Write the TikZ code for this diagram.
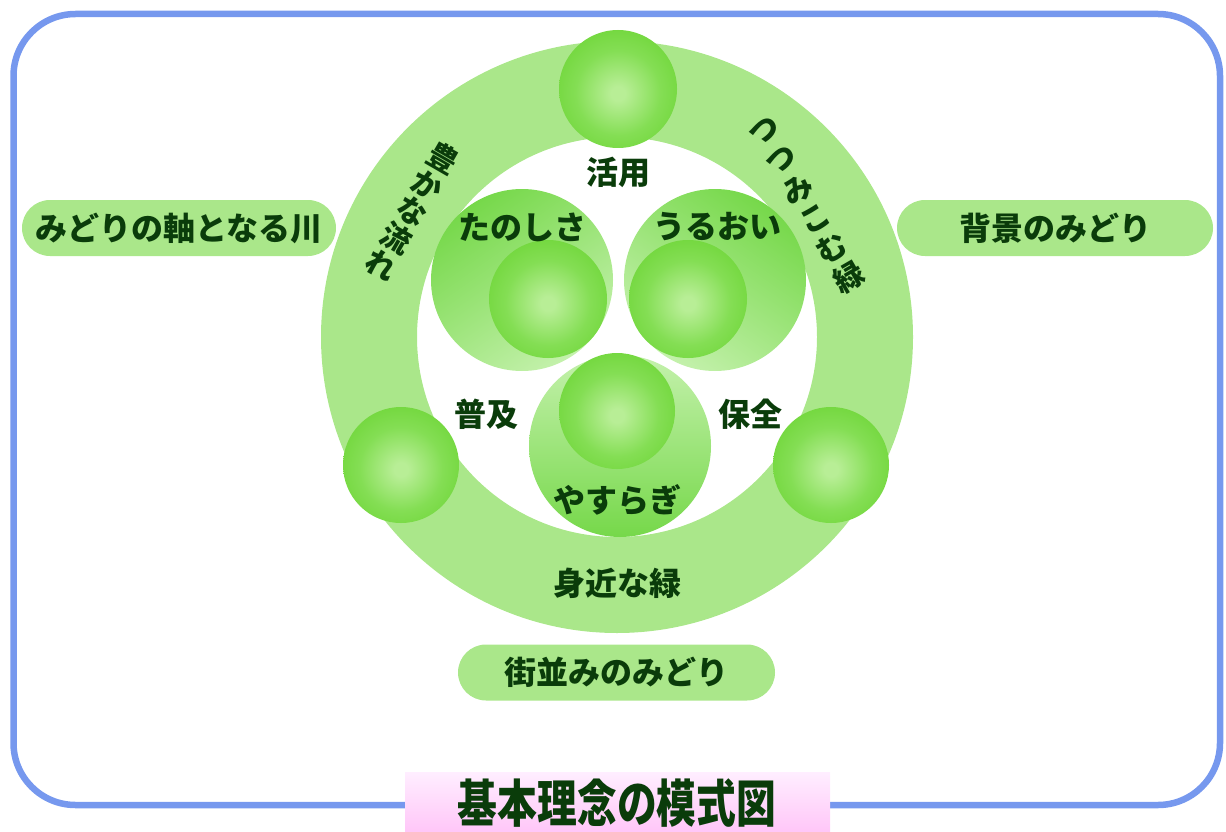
\documentclass[tikz,border=0pt]{standalone}
\usepackage{fontspec}
\newfontfamily\jp{Noto Sans CJK JP}
\definecolor{ringgreen}{RGB}{170,231,138}
\definecolor{ballout}{RGB}{106,212,50}
\definecolor{ballmid}{RGB}{132,222,84}
\definecolor{ballin}{RGB}{184,238,150}
\definecolor{bigdark}{RGB}{118,216,74}
\definecolor{biglight}{RGB}{196,241,172}
\definecolor{txt}{RGB}{10,60,10}
\definecolor{framecol}{RGB}{118,152,238}
\definecolor{pinktop}{RGB}{255,238,255}
\definecolor{pinkbot}{RGB}{255,198,248}
\pgfdeclareradialshading{greenball}{\pgfpoint{0bp}{-2bp}}{color(0bp)=(ballin); color(3bp)=(ballin); color(18bp)=(ballmid); color(33bp)=(ballout); color(100bp)=(ballout)}
\tikzset{
  lbl/.style={text=txt, inner sep=0pt, font=\jp\bfseries\fontsize{32}{32}\selectfont},
  arclbl/.style={text=txt, inner sep=0pt, align=center},
  pill/.style={fill=ringgreen, rounded corners=28pt, inner sep=0pt, minimum height=56pt, text=txt, font=\jp\bfseries\fontsize{32}{32}\selectfont},
  gball/.style={shading=greenball},
}
\begin{document}
\begin{tikzpicture}[x=1pt,y=-1pt]
\useasboundingbox (0,0) rectangle (1226,832);
% frame
\draw[framecol, line width=6.5pt, rounded corners=62pt] (13.5,14) rectangle (1220,805);
% ring
\fill[ringgreen, even odd rule] (617,337) circle (296pt) (617,337) circle (200pt);
% balls on ring
\shade[gball] (618,89) circle (59pt);
\shade[gball] (401,465) circle (58pt);
\shade[gball] (831,465) circle (58pt);
% three groups
\shade[top color=bigdark, bottom color=biglight, shading angle=35] (522,280) circle (91pt);
\shade[top color=bigdark, bottom color=biglight, shading angle=-35] (715,280) circle (91pt);
\shade[top color=bigdark, bottom color=biglight, shading angle=180] (620,446) circle (91pt);
\shade[gball] (548,299) circle (59pt);
\shade[gball] (688,299) circle (59pt);
\shade[gball] (617,411) circle (58pt);
% labels
\node[lbl] (katsuyou) at (618,172) {活用};
\node[lbl] (tanoshisa) at (522,227) {たのしさ};
\node[lbl] (uruoi) at (717,227) {うるおい};
\node[lbl] (fukyuu) at (486,414) {普及};
\node[lbl] (hozen) at (750,414) {保全};
\node[lbl] (yasuragi) at (617,500) {やすらぎ};
\node[lbl] (mijika) at (617,583) {身近な緑};
% arc texts (vertical writing, rotated)
\node[arclbl, rotate=-30, font=\jp\bfseries\fontsize{30}{31}\selectfont] (yutaka) at (412,211) {豊\\か\\な\\流\\れ};
\node[arclbl, rotate=30, font=\jp\bfseries\fontsize{30}{34}\selectfont] (tsutsumi) at (807.5,205.75) {つ\\つ\\み\\こ\\む\\緑};
% pills
\node[pill, minimum width=314pt] (kawa) at (179,228) {みどりの軸となる川};
\node[pill, minimum width=316pt] (haikei) at (1055,228) {背景のみどり};
\node[pill, minimum width=317pt] (machinami) at (616.5,672.5) {街並みのみどり};
% title
\shade[top color=pinktop, bottom color=pinkbot] (405,772) rectangle (830,832);
\node[text=txt, inner sep=0pt, xscale=0.78, font=\jp\bfseries\fontsize{51}{51}\selectfont] (title) at (617,803) {基本理念の模式図};
\end{tikzpicture}
\end{document}
